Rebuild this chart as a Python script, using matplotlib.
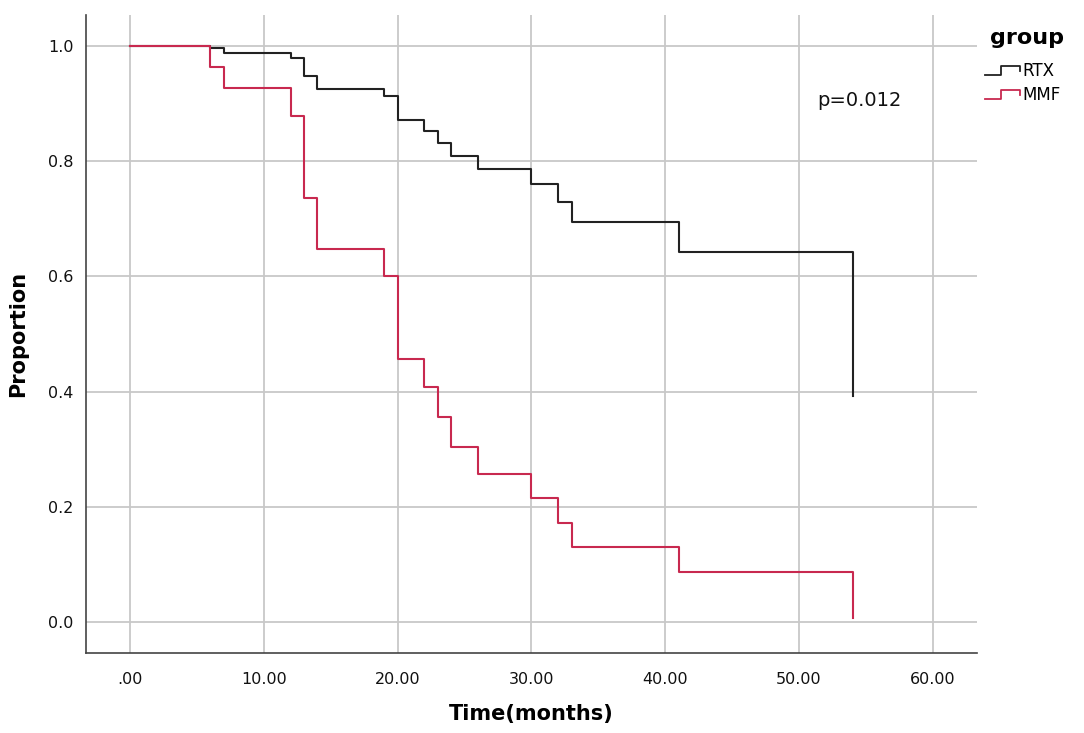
import matplotlib
matplotlib.use('Agg')
import matplotlib.pyplot as plt
from matplotlib.lines import Line2D
from matplotlib.legend_handler import HandlerBase

# survival data (months, proportion)
rtx_time = [0, 6, 7, 12, 13, 14, 19, 20, 22, 23, 24, 26, 30, 32, 33, 41, 54]
rtx_surv = [1.0, 0.996, 0.988, 0.979, 0.948, 0.926, 0.914, 0.871, 0.852,
            0.831, 0.809, 0.786, 0.760, 0.730, 0.694, 0.643, 0.393]

mmf_time = [0, 6, 7, 12, 13, 14, 19, 20, 22, 23, 24, 26, 30, 32, 33, 41, 54]
mmf_surv = [1.0, 0.964, 0.927, 0.878, 0.737, 0.648, 0.600, 0.457, 0.408,
            0.356, 0.304, 0.257, 0.215, 0.172, 0.130, 0.086, 0.006]

groups = ["RTX", "MMF"]
colors = ["#222222", "#c8294f"]

x_ticks = [0, 10, 20, 30, 40, 50, 60]
x_labels = [".00", "10.00", "20.00", "30.00", "40.00", "50.00", "60.00"]
y_ticks = [0.0, 0.2, 0.4, 0.6, 0.8, 1.0]
y_labels = ["0.0", "0.2", "0.4", "0.6", "0.8", "1.0"]


class StepHandler(HandlerBase):
	# draws the little step glyph used in the legend
	def create_artists(self, legend, orig_handle, xdescent, ydescent,
	                   width, height, fontsize, trans):
		x0 = -xdescent
		y0 = -ydescent
		xs = [x0, x0 + width * 0.45, x0 + width * 0.45, x0 + width, x0 + width]
		ys = [y0 + height * 0.1, y0 + height * 0.1, y0 + height * 0.85,
		      y0 + height * 0.85, y0 + height * 0.45]
		ln = Line2D(xs, ys, color=orig_handle.get_color(), lw=1.3, transform=trans)
		return [ln]


fig = plt.figure(figsize=(10.84, 7.33), dpi=100)
ax = fig.add_axes([0.0793, 0.1091, 0.9013 - 0.0793, 0.9795 - 0.1091])

ax.set_xlim(-3.29, 63.3)
ax.set_ylim(-0.054, 1.054)

ax.set_xticks(x_ticks)
ax.set_xticklabels(x_labels)
ax.set_yticks(y_ticks)
ax.set_yticklabels(y_labels)
ax.tick_params(length=0, labelsize=11.5, pad=14, colors="#111111")
ax.tick_params(axis="y", pad=9)

ax.grid(True, color="#c8c8c8", lw=1.3)
ax.set_axisbelow(True)
for s in ["top", "right"]:
	ax.spines[s].set_visible(False)
for s in ["left", "bottom"]:
	ax.spines[s].set_color("#444444")
	ax.spines[s].set_linewidth(1.2)

l1, = ax.step(rtx_time, rtx_surv, where="post", color=colors[0], lw=1.5)
l2, = ax.step(mmf_time, mmf_surv, where="post", color=colors[1], lw=1.5)
lines = [l1, l2]

ax.set_xlabel("Time(months)", fontsize=15, fontweight="bold", labelpad=12)
ax.set_ylabel("Proportion", fontsize=15, fontweight="bold", labelpad=14)

ax.text(0.8676, 0.8668, "p=0.012", transform=ax.transAxes, fontsize=14,
        ha="center", va="center", color="#111111")

# legend title and entries
fig.text(1027 / 1084, 1 - 38 / 733, "group", fontsize=16, fontweight="bold",
         ha="center", va="center")
leg = fig.legend(lines, groups, handler_map={Line2D: StepHandler()},
                 loc="upper left", bbox_to_anchor=(985 / 1084, 1 - 62 / 733),
                 frameon=False, fontsize=12, borderpad=0,
                 handlelength=2.1, handletextpad=0.15, labelspacing=0.35,
                 borderaxespad=0)

fig.savefig("out.png", dpi=100)
